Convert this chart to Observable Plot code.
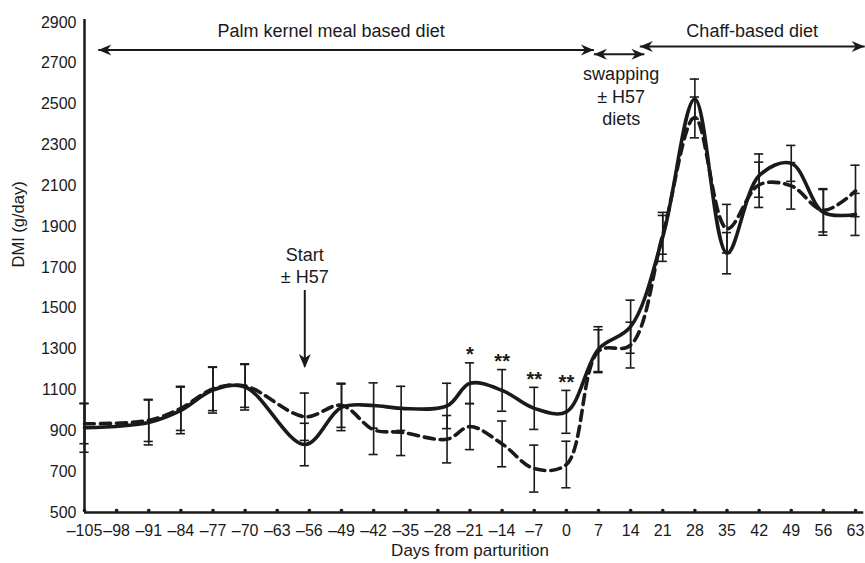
<!DOCTYPE html>
<html><head><meta charset="utf-8">
<script src="https://cdn.jsdelivr.net/npm/d3@7"></script>
<script src="https://cdn.jsdelivr.net/npm/@observablehq/plot@0.6"></script>
<style>body{margin:0;background:#fff} svg{display:block}</style>
</head><body><div id="chart"></div>
<script>
// Days of measurement (relative to parturition)
const days = [-105, -91, -84, -77, -70, -57, -49, -42, -36, -26, -21, -14, -7, 0, 7, 14, 21, 28, 35, 42, 49, 56, 63];
// Solid line series (mean DMI, g/day) and its error
const solidMean = [915, 941, 1000, 1100, 1115, 833, 1015, 1024, 1010, 1022, 1133, 1098, 1010, 993, 1300, 1410, 1850, 2525, 1770, 2150, 2210, 1970, 1960];
const solidErr  = [120, 110, 114, 113, 113, 104, 114, 111, 108, 111, 100, 102, 103, 105, 110, 130, 120, 98, 101, 106, 88, 112, 103];
// Dashed line series
const dashedMean = [935, 951, 1010, 1105, 1120, 969, 1025, 905, 893, 859, 921, 836, 715, 735, 1290, 1320, 1860, 2435, 1890, 2105, 2100, 1980, 2075];
const dashedErr  = [98, 103, 108, 106, 105, 116, 108, 121, 114, 116, 113, 112, 115, 114, 105, 112, 95, 100, 119, 111, 114, 106, 126];

// Significance markers
const sigDays = [-21, -14, -7, 0];
const sigLabels = ["*", "**", "**", "**"];

// Axis ticks
const xTicks = [-105, -98, -91, -84, -77, -70, -63, -56, -49, -42, -35, -28, -21, -14, -7, 0, 7, 14, 21, 28, 35, 42, 49, 56, 63];
const yTicks = [500, 700, 900, 1100, 1300, 1500, 1700, 1900, 2100, 2300, 2500, 2700, 2900];

// Diet periods (days) and labels
const periodLabels = ["Palm kernel meal based diet", "swapping\n± H57\ndiets", "Chaff-based diet"];
const periodStart = [-102, 6, 16];
const periodEnd = [6, 17, 65];
const startDay = -57;

const rows = days.map((d, i) => ({day: d, solid: solidMean[i], solidErr: solidErr[i], dashed: dashedMean[i], dashedErr: dashedErr[i]}));
const bars = rows.flatMap(r => [
  {day: r.day, lo: r.solid - r.solidErr, hi: r.solid + r.solidErr},
  {day: r.day, lo: r.dashed - r.dashedErr, hi: r.dashed + r.dashedErr}
]);
const sig = sigDays.map((d, i) => {
  const r = rows.find(r => r.day === d);
  return {day: d, label: sigLabels[i], y: Math.max(r.solid + r.solidErr, r.dashed + r.dashedErr)};
});
const arrowY = [2765, 2745, 2782];
const periods = periodLabels.map((l, i) => ({label: l, start: periodStart[i], end: periodEnd[i], mid: (periodStart[i] + periodEnd[i]) / 2, ay: arrowY[i]}));

const ink = "#1a1a1a";
const font = "'Liberation Sans', Arial, Helvetica, sans-serif";
const fmt = d => d < 0 ? "\u2013" + Math.abs(d) : String(d);

// filled arrowhead symbols with tip at origin
const headRight = {draw(ctx) { ctx.moveTo(0, 0); ctx.lineTo(-13, -5.5); ctx.lineTo(-9, 0); ctx.lineTo(-13, 5.5); ctx.closePath(); }};
const headLeft  = {draw(ctx) { ctx.moveTo(0, 0); ctx.lineTo(13, -5.5); ctx.lineTo(9, 0); ctx.lineTo(13, 5.5); ctx.closePath(); }};
const headDown  = {draw(ctx) { ctx.moveTo(0, 0); ctx.lineTo(-6, -14); ctx.lineTo(0, -10); ctx.lineTo(6, -14); ctx.closePath(); }};

const chart = Plot.plot({
  width: 865,
  height: 563,
  marginLeft: 84,
  marginRight: 10,
  marginTop: 22,
  marginBottom: 51,
  style: {fontFamily: font, fontSize: "16px", color: ink, background: "#fff"},
  x: {domain: [-105, 63]},
  y: {domain: [500, 2900]},
  marks: [
    Plot.axisY({ticks: yTicks, tickSize: 0, tickPadding: 8, tickFormat: d => String(d), label: null, fontSize: 16}),
    Plot.axisX({ticks: xTicks, tickSize: 0, tickPadding: 12, tickFormat: fmt, label: null, fontSize: 16}),
    // axis lines
    Plot.ruleX([-105], {y1: 500, y2: 2915, stroke: ink, strokeWidth: 2.5}),
    Plot.ruleY([500], {x1: -105, x2: 64.8, stroke: ink, strokeWidth: 2.5}),
    Plot.dot(xTicks, {x: d => d, y: 500, r: 1.8, fill: ink, dy: -2}),
    // error bars
    Plot.ruleX(bars, {x: "day", y1: "lo", y2: "hi", stroke: ink, strokeWidth: 1.6}),
    Plot.ruleY(bars, {x1: d => d.day - 1, x2: d => d.day + 1, y: "hi", stroke: ink, strokeWidth: 1.6}),
    Plot.ruleY(bars, {x1: d => d.day - 1, x2: d => d.day + 1, y: "lo", stroke: ink, strokeWidth: 1.6}),
    // series lines
    Plot.line(rows, {x: "day", y: "dashed", curve: "catmull-rom", stroke: ink, strokeWidth: 3.6, strokeDasharray: "10,6"}),
    Plot.line(rows, {x: "day", y: "solid", curve: "catmull-rom", stroke: ink, strokeWidth: 3.6}),
    // significance
    Plot.text(sig, {x: "day", y: "y", text: "label", dy: -8, fontSize: 20, fontWeight: "bold", fill: ink}),
    // diet period arrows (double headed)
    Plot.link(periods, {x1: "start", x2: "end", y1: "ay", y2: "ay", stroke: ink, strokeWidth: 2}),
    Plot.dot(periods, {x: "start", y: "ay", symbol: headLeft, fill: ink, stroke: null, r: 6}),
    Plot.dot(periods, {x: "end", y: "ay", symbol: headRight, fill: ink, stroke: null, r: 6}),
    Plot.text(periods, {x: "mid", y: 2858, text: "label", fontSize: 18, fill: ink, dx: -15, filter: (d, i) => i === 0}),
    Plot.text(periods, {x: "mid", y: 2858, text: "label", fontSize: 18, fill: ink, filter: (d, i) => i === 2}),
    Plot.text(periods, {x: "mid", y: 2542, text: "label", fontSize: 18, lineHeight: 1.25, fill: ink, dx: 2, filter: (d, i) => i === 1}),
    // Start ± H57
    Plot.text([startDay], {x: d => d, y: 1713, text: () => "Start\n± H57", fontSize: 18, lineHeight: 1.25, fill: ink}),
    Plot.link([startDay], {x1: d => d, x2: d => d, y1: 1590, y2: 1215, stroke: ink, strokeWidth: 2}),
    Plot.dot([startDay], {x: d => d, y: 1208, symbol: headDown, fill: ink, stroke: null, r: 6}),
    // axis titles
    Plot.text(["DMI (g/day)"], {frameAnchor: "left", dx: -66, rotate: -90, text: d => d, fontSize: 16.5, fill: ink}),
    Plot.text(["Days from parturition"], {frameAnchor: "bottom", dy: 43, text: d => d, fontSize: 17, fill: ink})
  ]
});
document.getElementById("chart").appendChild(chart);
</script>
</body></html>
